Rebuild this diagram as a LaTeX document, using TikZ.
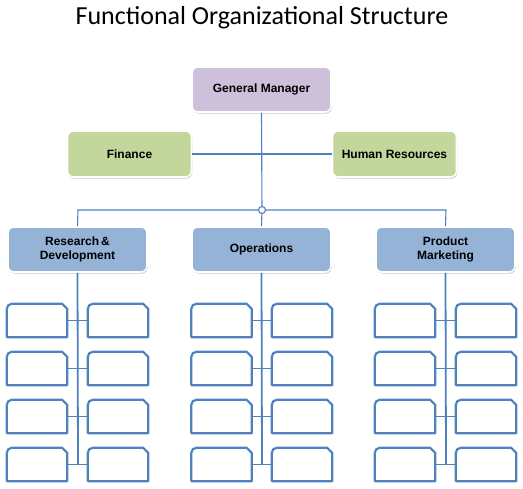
\documentclass[tikz,border=0pt]{standalone}
\usepackage{fontspec}
\setmainfont{Liberation Sans}
\newfontfamily\titlefont{Carlito}
\usetikzlibrary{shadows}
\definecolor{lineblue}{HTML}{4F81BD}
\definecolor{gmfill}{HTML}{CCC0DA}
\definecolor{greenfill}{HTML}{C3D69B}
\definecolor{bluefill}{HTML}{95B3D7}
\tikzset{
  bigbox/.style={rectangle, rounded corners=6pt, draw=white, line width=1.6pt,
    inner sep=2pt, align=center, font=\fontsize{12}{14}\selectfont\bfseries,
    drop shadow={shadow xshift=0.8pt, shadow yshift=-1.6pt, opacity=0.35, fill=black!60}},
  gmbox/.style={bigbox, fill=gmfill, minimum width=139pt, minimum height=45pt},
  staffbox/.style={bigbox, fill=greenfill, minimum width=124pt, minimum height=46pt},
  deptbox/.style={bigbox, fill=bluefill, minimum width=139pt, minimum height=45pt},
  sb/.style={rectangle, draw=none, inner sep=0pt, minimum width=60pt, minimum height=33pt},
  sbline/.style={draw=lineblue, line width=2.2pt, line join=round},
  conn/.style={draw=lineblue, line width=1.1pt},
  trunk/.style={draw=lineblue, line width=1.8pt},
}
\newcommand\smallbx[3]{%
  \node[sb] (#1) at (#2,#3) {};
  \draw[sbline] (#1.south west) [rounded corners=5pt] -- (#1.north west) [sharp corners]
     -- ([xshift=-5pt]#1.north east) -- ([yshift=-5pt]#1.north east) -- (#1.south east) -- cycle;}
\begin{document}
\begin{tikzpicture}[x=1pt,y=-1pt]
\useasboundingbox (0,0) rectangle (523,489);
\node[font=\titlefont\fontsize{26}{30}\selectfont] (title) at (262,18) {Functional Organizational Structure};

\coordinate (hub) at (262,210);
\coordinate (rdtop) at (78,210);
\coordinate (pmtop) at (446,210);

\node[gmbox] (gm) at (261.5,89.5) {General Manager};
\node[staffbox] (fin) at (129.5,154) {Finance};
\node[staffbox] (hr) at (394.5,154) {Human Resources};

\node[deptbox] (rd) at (77.5,249.5) {Research\,\&\\Development};
\node[deptbox] (ops) at (261.5,249.5) {Operations};
\node[deptbox] (pm) at (445.5,249.5) {Product\\Marketing};

% staff and bus lines
\draw[conn] (fin.east) -- (hr.west);
\draw[conn] (gm.south) -- (hub);
\draw[conn] (rd.north) -- (rdtop) -- (pmtop) -- (pm.north);
\draw[conn] (hub) -- (ops.north);
\draw[conn, fill=white] (hub) circle[radius=3.5pt];

% small boxes
\foreach \c/\lx/\rx/\vx in {rd/37/118/78, ops/221.5/302/262, pm/405/486/446}{
  \coordinate (\c end) at (\vx,464.5);
  \draw[trunk] (\c.south) -- (\c end);
  \foreach \r/\y in {1/320.5, 2/368.5, 3/416.5, 4/464.5}{
    \smallbx{\c L\r}{\lx}{\y}
    \smallbx{\c R\r}{\rx}{\y}
    \draw[conn] (\c L\r.east) -- (\c R\r.west);
  }
}
\end{tikzpicture}
\end{document}
